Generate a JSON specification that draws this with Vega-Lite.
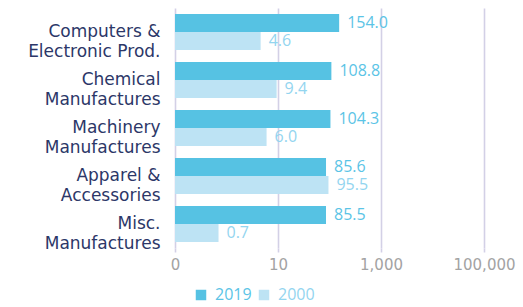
{
  "$schema": "https://vega.github.io/schema/vega-lite/v6.json",
  "autosize": "none",
  "width": 309,
  "height": 240,
  "padding": {"left": 175, "top": 8, "right": 39, "bottom": 59},
  "background": "white",
  "config": {"view": {"stroke": null}, "font": "Open Sans"},
  "data": {"values": [
    {"category": "Computers &|Electronic Prod.", "year": "2019", "value": 154.0},
    {"category": "Computers &|Electronic Prod.", "year": "2000", "value": 4.6},
    {"category": "Chemical|Manufactures", "year": "2019", "value": 108.8},
    {"category": "Chemical|Manufactures", "year": "2000", "value": 9.4},
    {"category": "Machinery|Manufactures", "year": "2019", "value": 104.3},
    {"category": "Machinery|Manufactures", "year": "2000", "value": 6.0},
    {"category": "Apparel &|Accessories", "year": "2019", "value": 85.6},
    {"category": "Apparel &|Accessories", "year": "2000", "value": 95.5},
    {"category": "Misc.|Manufactures", "year": "2019", "value": 85.5},
    {"category": "Misc.|Manufactures", "year": "2000", "value": 0.7}
  ]},
  "encoding": {
    "y": {
      "field": "category", "type": "nominal", "sort": null, "title": null,
      "scale": {"paddingInner": 0.25, "paddingOuter": 0.125},
      "axis": {
        "labelExpr": "split(datum.value, '|')",
        "labelFont": "DejaVu Sans",
        "labelFontSize": 17, "labelColor": "#2c3768", "labelLineHeight": 20,
        "ticks": false, "domain": false, "labelPadding": 15, "labelLimit": 300
      }
    },
    "yOffset": {"field": "year", "type": "nominal", "sort": ["2019", "2000"]},
    "x": {
      "field": "value", "type": "quantitative", "title": null, "stack": null,
      "scale": {"type": "log", "domain": [0.1, 100000], "nice": false},
      "axis": {
        "values": [0.1, 10, 1000, 100000],
        "labelExpr": "datum.value < 1 ? '0' : format(datum.value, ',')",
        "labelFont": "DejaVu Sans",
        "labelFontSize": 15, "labelColor": "#a3a3a3",
        "gridColor": "#d3d0e6", "gridWidth": 1.6,
        "tickColor": "#d3d0e6", "tickWidth": 1.6, "tickSize": 4,
        "domain": false, "labelPadding": 5, "labelFlush": false
      }
    }
  },
  "layer": [
    {
      "mark": {"type": "bar"},
      "encoding": {
        "color": {
          "field": "year", "type": "nominal", "sort": ["2019", "2000"],
          "scale": {"domain": ["2019", "2000"], "range": ["#56c2e3", "#bde3f4"]},
          "legend": {
            "title": null, "orient": "none", "direction": "horizontal",
            "legendX": 18, "legendY": 279,
            "symbolType": "square", "symbolSize": 110, "symbolStrokeWidth": 0,
            "labelFontSize": 16, "columnPadding": 4, "labelOffset": 6,
            "encode": {
              "labels": {"update": {"fill": {"signal": "datum.value === '2019' ? '#5bc4e6' : '#93d5ef'"}}},
              "symbols": {"update": {"fill": {"signal": "datum.value === '2019' ? '#56c2e3' : '#a2d9f0'"}, "stroke": {"value": "transparent"}}}
            }
          }
        }
      }
    },
    {
      "mark": {"type": "text", "align": "left", "baseline": "middle", "dx": 8, "fontSize": 16},
      "encoding": {
        "text": {"field": "value", "type": "quantitative", "format": ".1f"},
        "color": {"condition": {"test": "datum.year === '2019'", "value": "#5bc4e6"}, "value": "#93d5ef"}
      }
    }
  ]
}
